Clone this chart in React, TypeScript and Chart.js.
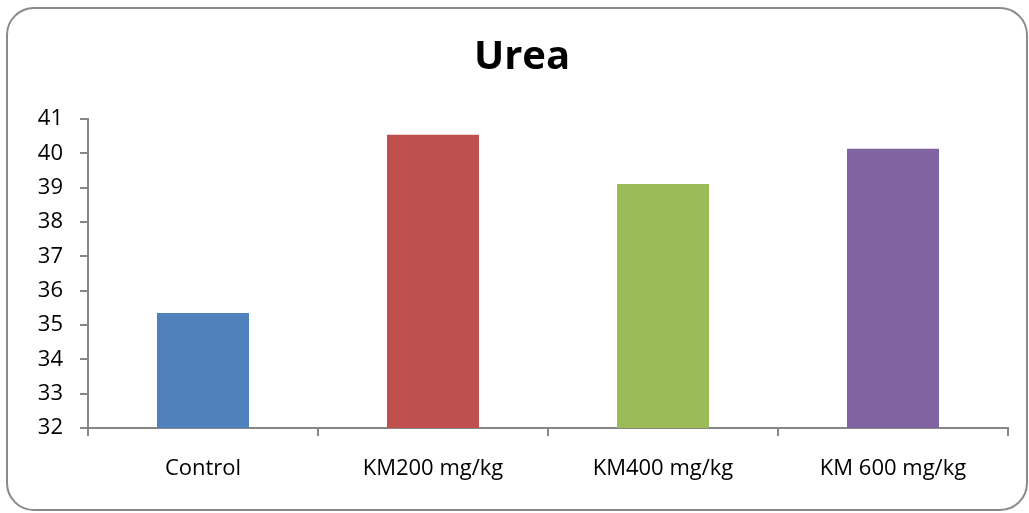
import React, { useEffect, useRef } from "react";
import { Chart, registerables } from "chart.js";

Chart.register(...registerables);

const categories = ["Control", "KM200 mg/kg", "KM400 mg/kg", "KM 600 mg/kg"];
const ureaValues = [35.35, 40.54, 39.11, 40.13];
const barColors = ["#4F81BD", "#C0504D", "#9BBB59", "#8064A2"];
const yMin = 32;
const yMax = 41;

const FONT = "'Open Sans', 'DejaVu Sans', sans-serif";
const AXIS_GRAY = "#868686";

export default function App() {
  const canvasRef = useRef<HTMLCanvasElement | null>(null);

  useEffect(() => {
    const canvas = canvasRef.current;
    if (!canvas) return;
    const chart = new Chart(canvas, {
      type: "bar",
      data: {
        labels: categories,
        datasets: [
          {
            label: "Urea",
            data: ureaValues,
            backgroundColor: barColors,
            borderWidth: 0,
            barPercentage: 0.4,
            categoryPercentage: 1.0,
          },
        ],
      },
      options: {
        responsive: false,
        animation: false,
        devicePixelRatio: 1,
        layout: { padding: { left: 36, right: 21, top: 0, bottom: 0 } },
        plugins: {
          legend: { display: false },
          tooltip: { enabled: false },
          title: {
            display: true,
            text: "Urea",
            color: "#000000",
            font: { family: FONT, size: 40, weight: "bold", lineHeight: 1.2 },
            padding: { top: 34, bottom: 37 },
          },
        },
        scales: {
          x: {
            grid: {
              display: true,
              drawOnChartArea: false,
              drawTicks: true,
              tickLength: 8,
              color: AXIS_GRAY,
              lineWidth: 2,
              offset: true,
            },
            border: { display: true, color: AXIS_GRAY, width: 2 },
            ticks: {
              color: "#000000",
              font: { family: FONT, size: 22, lineHeight: 1.2 },
              padding: 20,
              maxRotation: 0,
            },
            afterFit: (scale: any) => {
              scale.height = 85;
            },
          },
          y: {
            min: yMin,
            max: yMax,
            grid: {
              display: true,
              drawOnChartArea: false,
              drawTicks: true,
              tickLength: 8,
              color: AXIS_GRAY,
              lineWidth: 2,
            },
            border: { display: true, color: AXIS_GRAY, width: 2 },
            ticks: {
              stepSize: 1,
              color: "#000000",
              font: { family: FONT, size: 22, lineHeight: 1.2 },
              padding: 17,
            },
            afterFit: (scale: any) => {
              scale.width = 52;
            },
          },
        },
      },
    });
    return () => chart.destroy();
  }, []);

  return (
    <div
      style={{
        position: "fixed",
        left: 0,
        top: 0,
        width: 1029,
        height: 513,
        background: "#ffffff",
      }}
    >
      <div
        style={{
          position: "absolute",
          left: 6,
          top: 7,
          width: 1022,
          height: 504,
          boxSizing: "border-box",
          border: "2px solid #8a8a8a",
          borderRadius: 28,
        }}
      />
      <canvas
        ref={canvasRef}
        width={1029}
        height={513}
        style={{ position: "absolute", left: 0, top: 0, width: 1029, height: 513 }}
      />
    </div>
  );
}
